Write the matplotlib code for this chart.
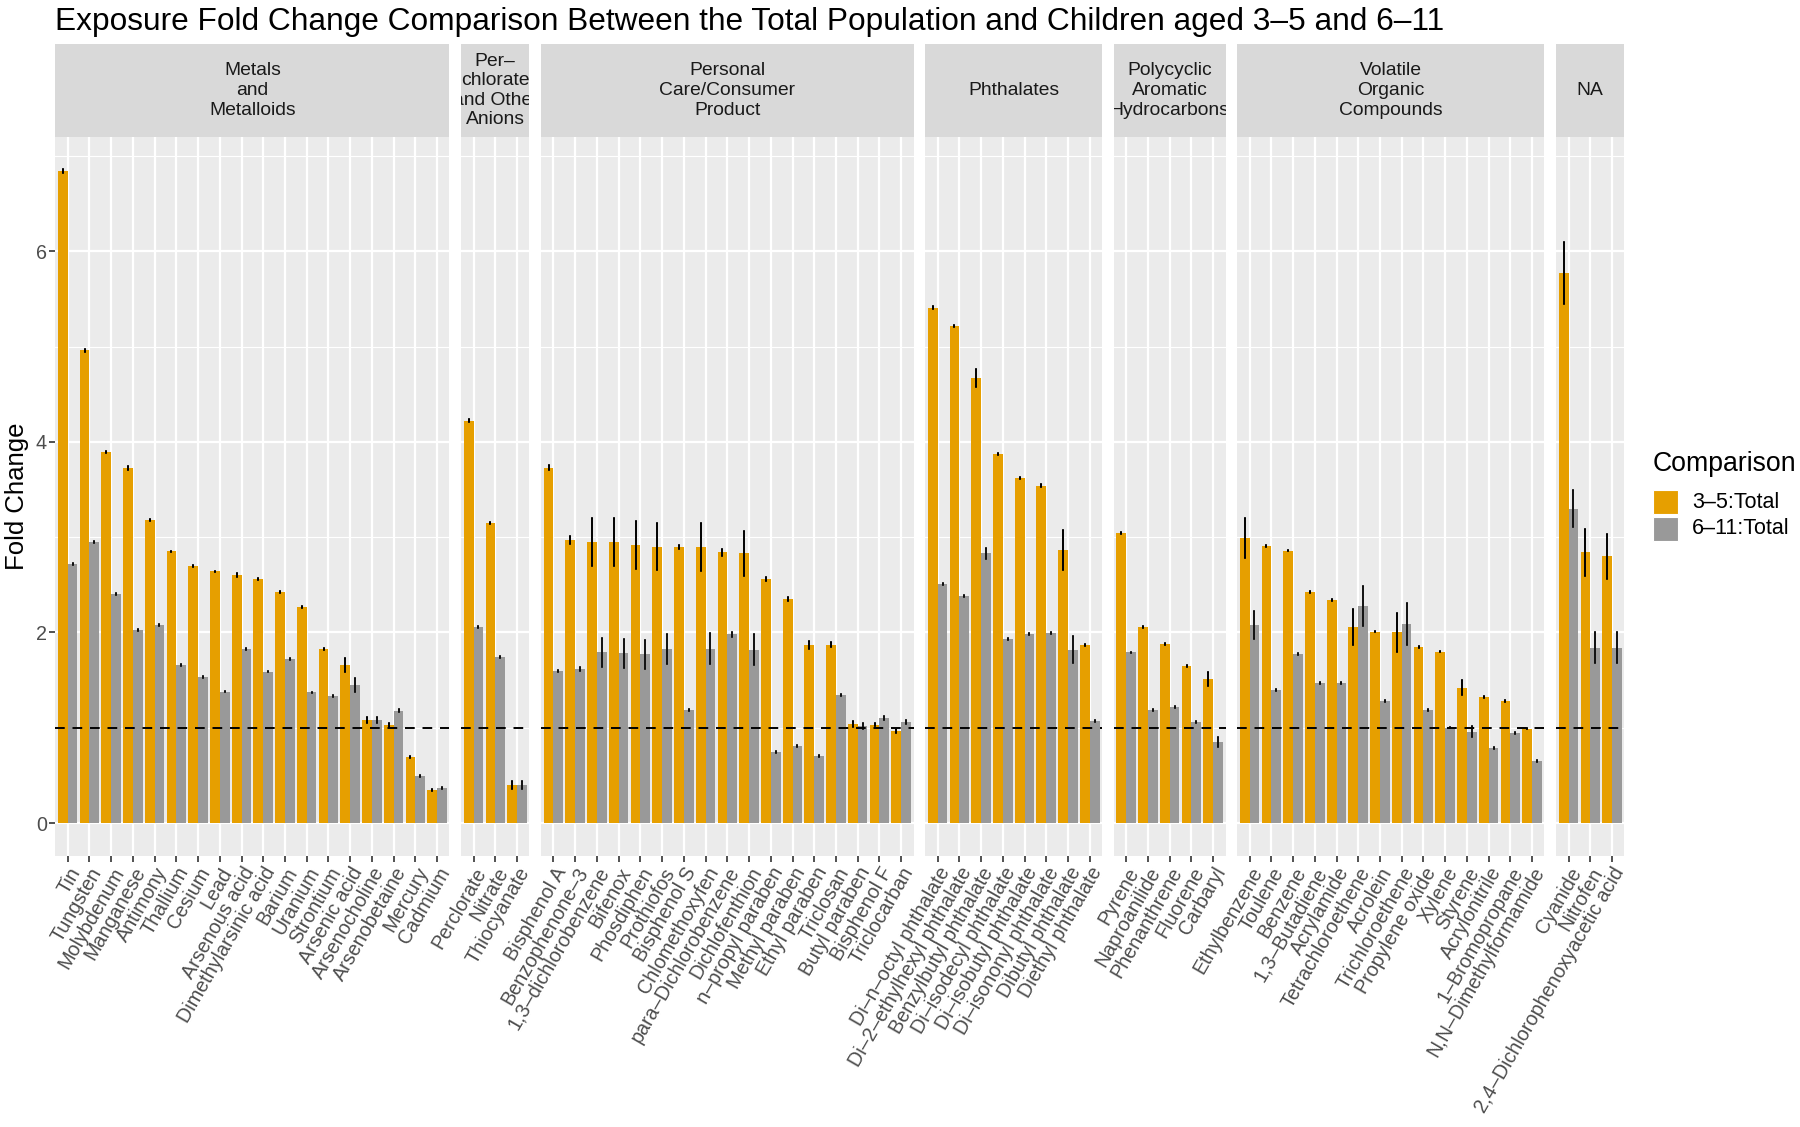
import matplotlib
matplotlib.use("Agg")
import matplotlib.pyplot as plt
from matplotlib.patches import Rectangle
import numpy as np

plt.rcParams['font.family'] = ['Liberation Sans', 'DejaVu Sans']

# ---------------- data ----------------
strip_labels = ["Metals\nand\nMetalloids", "Per–\nchlorate\nand Other\nAnions",
                "Personal\nCare/Consumer\nProduct", "Phthalates",
                "Polycyclic\nAromatic\nHydrocarbons", "Volatile\nOrganic\nCompounds", "NA"]

metals_names = ["Tin", "Tungsten", "Molybdenum", "Manganese", "Antimony", "Thallium", "Cesium",
                "Lead", "Arsenous acid", "Dimethylarsinic acid", "Barium", "Uranium", "Strontium",
                "Arsenic acid", "Arsenocholine", "Arsenobetaine", "Mercury", "Cadmium"]
metals_fc35 = [6.84, 4.96, 3.89, 3.73, 3.18, 2.85, 2.70, 2.64, 2.60, 2.56, 2.42, 2.27, 1.83, 1.66, 1.08, 1.03, 0.69, 0.35]
metals_err35 = [0.02, 0.02, 0.01, 0.02, 0.01, 0.01, 0.01, 0.01, 0.02, 0.01, 0.01, 0.01, 0.01, 0.07, 0.035, 0.02, 0.01, 0.01]
metals_fc611 = [2.72, 2.95, 2.40, 2.03, 2.08, 1.66, 1.53, 1.38, 1.83, 1.59, 1.72, 1.37, 1.33, 1.45, 1.08, 1.18, 0.49, 0.37]
metals_err611 = [0.01, 0.01, 0.01, 0.01, 0.01, 0.01, 0.01, 0.01, 0.01, 0.01, 0.01, 0.01, 0.01, 0.07, 0.035, 0.02, 0.01, 0.01]

anion_names = ["Perclorate", "Nitrate", "Thiocyanate"]
anion_fc35 = [4.22, 3.15, 0.40]
anion_err35 = [0.015, 0.01, 0.045]
anion_fc611 = [2.06, 1.74, 0.40]
anion_err611 = [0.01, 0.01, 0.04]

pcp_names = ["Bisphenol A", "Benzophenone–3", "1,3–dichlorobenzene", "Bifenox", "Phosdiphen",
             "Prothiofos", "Bisphenol S", "Chlomethoxyfen", "para–Dichlorobenzene", "Dichlofenthion",
             "n–propyl paraben", "Methyl paraben", "Ethyl paraben", "Triclosan", "Butyl paraben",
             "Bisphenol F", "Triclocarban"]
pcp_fc35 = [3.73, 2.97, 2.95, 2.95, 2.92, 2.90, 2.90, 2.90, 2.84, 2.83, 2.56, 2.35, 1.87, 1.87, 1.04, 1.03, 0.97]
pcp_err35 = [0.025, 0.045, 0.25, 0.25, 0.25, 0.245, 0.02, 0.25, 0.035, 0.24, 0.02, 0.02, 0.045, 0.025, 0.035, 0.015, 0.02]
pcp_fc611 = [1.60, 1.62, 1.79, 1.78, 1.77, 1.83, 1.19, 1.83, 1.98, 1.82, 0.75, 0.81, 0.70, 1.34, 1.02, 1.10, 1.06]
pcp_err611 = [0.01, 0.02, 0.15, 0.15, 0.155, 0.157, 0.01, 0.16, 0.028, 0.16, 0.01, 0.01, 0.01, 0.01, 0.03, 0.02, 0.02]

phth_names = ["Di–n–octyl phthalate", "Di–2–ethylhexyl phthalate", "Benzylbutyl phthalate",
              "Di–isodecyl phthalate", "Di–isobutyl phthalate", "Di–isononyl phthalate",
              "Dibutyl phthalate", "Diethyl phthalate"]
phth_fc35 = [5.41, 5.22, 4.67, 3.87, 3.62, 3.54, 2.87, 1.87]
phth_err35 = [0.02, 0.01, 0.09, 0.01, 0.01, 0.015, 0.21, 0.01]
phth_fc611 = [2.51, 2.38, 2.83, 1.93, 1.98, 1.99, 1.82, 1.075]
phth_err611 = [0.01, 0.01, 0.058, 0.01, 0.01, 0.01, 0.14, 0.01]

pah_names = ["Pyrene", "Naproanilide", "Phenanthrene", "Fluorene", "Carbaryl"]
pah_fc35 = [3.04, 2.06, 1.88, 1.65, 1.51]
pah_err35 = [0.01, 0.01, 0.01, 0.01, 0.075]
pah_fc611 = [1.79, 1.19, 1.22, 1.06, 0.85]
pah_err611 = [0.01, 0.01, 0.01, 0.01, 0.05]

voc_names = ["Ethylbenzene", "Toulene", "Benzene", "1,3–Butadiene", "Acrylamide", "Tetrachloroethene",
             "Acrolein", "Trichloroethene", "Propylene oxide", "Xylene", "Styrene", "Acrylonitrile",
             "1–Bromopropane", "N,N–Dimethylformamide"]
voc_fc35 = [2.99, 2.91, 2.86, 2.42, 2.34, 2.06, 2.01, 2.00, 1.85, 1.80, 1.42, 1.32, 1.28, 0.99]
voc_err35 = [0.21, 0.01, 0.01, 0.01, 0.01, 0.19, 0.01, 0.205, 0.01, 0.01, 0.077, 0.01, 0.01, 0.005]
voc_fc611 = [2.08, 1.40, 1.77, 1.47, 1.47, 2.28, 1.28, 2.09, 1.19, 1.00, 0.96, 0.79, 0.945, 0.65]
voc_err611 = [0.147, 0.01, 0.01, 0.01, 0.01, 0.21, 0.01, 0.217, 0.01, 0.005, 0.056, 0.01, 0.01, 0.01]

na_names = ["Cyanide", "Nitrofen", "2,4–Dichlorophenoxyacetic acid"]
na_fc35 = [5.77, 2.84, 2.80]
na_err35 = [0.325, 0.245, 0.235]
na_fc611 = [3.30, 1.84, 1.84]
na_err611 = [0.19, 0.16, 0.16]

legend_labels = ["3–5:Total", "6–11:Total"]
y_ticks = [0, 2, 4, 6]
y_minor = [1, 3, 5, 7]
ref_line = 1.0

panels = [
    (metals_names, metals_fc35, metals_err35, metals_fc611, metals_err611),
    (anion_names, anion_fc35, anion_err35, anion_fc611, anion_err611),
    (pcp_names, pcp_fc35, pcp_err35, pcp_fc611, pcp_err611),
    (phth_names, phth_fc35, phth_err35, phth_fc611, phth_err611),
    (pah_names, pah_fc35, pah_err35, pah_fc611, pah_err611),
    (voc_names, voc_fc35, voc_err35, voc_fc611, voc_err611),
    (na_names, na_fc35, na_err35, na_fc611, na_err611),
]

# ---------------- style ----------------
W, H, DPI = 1800, 1127, 100
ORANGE, GREY = '#E69F00', '#999999'
PANEL_BG, STRIP_BG = '#EBEBEB', '#D9D9D9'
TXT, AXTXT = '#1A1A1A', '#4D4D4D'
E = 0.07
DODGE = 0.45

fig = plt.figure(figsize=(W / DPI, H / DPI), dpi=DPI)
L, R = 55.3 / W, 1624.4 / W
T, B = 1 - 136.7 / H, 1 - 855.7 / H
strip_h = 92.4 / H

ratios = [len(p[0]) + 2 * E for p in panels]
gs = fig.add_gridspec(1, len(panels), width_ratios=ratios, left=L, right=R, top=T, bottom=B, wspace=0.0547)

ymax = max(max(np.array(p[1]) + np.array(p[2])) for p in panels)
ymax = max(ymax, max(max(np.array(p[3]) + np.array(p[4])) for p in panels))
ylo, yhi = -0.05 * ymax, 1.05 * ymax

FS = 14.2
SFS = 13.9
for i, (names, f35, e35, f611, e611) in enumerate(panels):
    ax = fig.add_subplot(gs[0, i])
    n = len(names)
    x = np.arange(n)
    ax.set_facecolor(PANEL_BG)
    for s in ax.spines.values():
        s.set_visible(False)
    ax.set_axisbelow(True)
    ax.set_xlim(-0.5 - E, n - 0.5 + E)
    ax.set_ylim(ylo, yhi)
    ax.set_xticks(x)
    ax.set_xticklabels(names, rotation=60, ha='right', va='top', rotation_mode='anchor',
                       fontsize=FS, color=AXTXT)
    ax.set_yticks(y_ticks)
    ax.set_yticks(y_minor, minor=True)
    ax.grid(which='major', color='white', lw=1.6)
    ax.grid(which='minor', axis='y', color='white', lw=0.8)
    ax.tick_params(axis='x', length=4, width=1.2, color='#333333', pad=2)
    ax.tick_params(which='minor', length=0)
    if i == 0:
        ax.tick_params(axis='y', length=4, width=1.2, color='#333333', pad=2,
                       labelsize=FS, labelcolor=AXTXT)
    else:
        ax.tick_params(axis='y', left=False, labelleft=False)

    ax.bar(x - DODGE / 2, f35, width=DODGE, color=ORANGE, zorder=2)
    ax.bar(x + DODGE / 2, f611, width=DODGE, color=GREY, zorder=2)
    ax.errorbar(x - DODGE / 2, f35, yerr=e35, fmt='none', ecolor='black', elinewidth=1.4,
                capsize=1.0, capthick=1.2, zorder=3)
    ax.errorbar(x + DODGE / 2, f611, yerr=e611, fmt='none', ecolor='#111111', elinewidth=1.4,
                capsize=1.0, capthick=1.2, zorder=3)
    ax.axhline(ref_line, color='black', lw=1.4, ls=(0, (5, 4)), zorder=4)

    pos = ax.get_position()
    sax = fig.add_axes([pos.x0, T, pos.width, strip_h])
    sax.set_facecolor(STRIP_BG)
    sax.set_xticks([]); sax.set_yticks([])
    for s in sax.spines.values():
        s.set_visible(False)
    sax.text(0.5, 0.5, strip_labels[i], ha='center', va='center', fontsize=SFS, color=TXT,
             linespacing=1.2, transform=sax.transAxes, clip_on=True)

# title
fig.text(55 / W, 1 - 30 / H, "Exposure Fold Change Comparison Between the Total Population and Children aged 3–5 and 6–11",
         ha='left', va='baseline', fontsize=22.8, color='black')
# y label
fig.text(17 / W, 1 - (136.7 + 855.7) / 2 / H, "Fold Change", rotation=90, ha='center', va='center',
         fontsize=18.5, color='black')

# legend
fig.text(1653 / W, 1 - 464 / H, "Comparison", ha='left', va='center', fontsize=19.2, color='black')
for k, (lab, col) in enumerate(zip(legend_labels, [ORANGE, GREY])):
    y0 = 490 + k * 26.5
    fig.add_artist(Rectangle((1653 / W, 1 - (y0 + 24) / H), 25 / W, 24 / H,
                             transform=fig.transFigure, facecolor=col, edgecolor='white', lw=0.8))
    fig.text(1692 / W, 1 - (y0 + 12) / H, lab, ha='left', va='center', fontsize=15.5, color='black')

fig.savefig("out.png", dpi=DPI, facecolor='white')
